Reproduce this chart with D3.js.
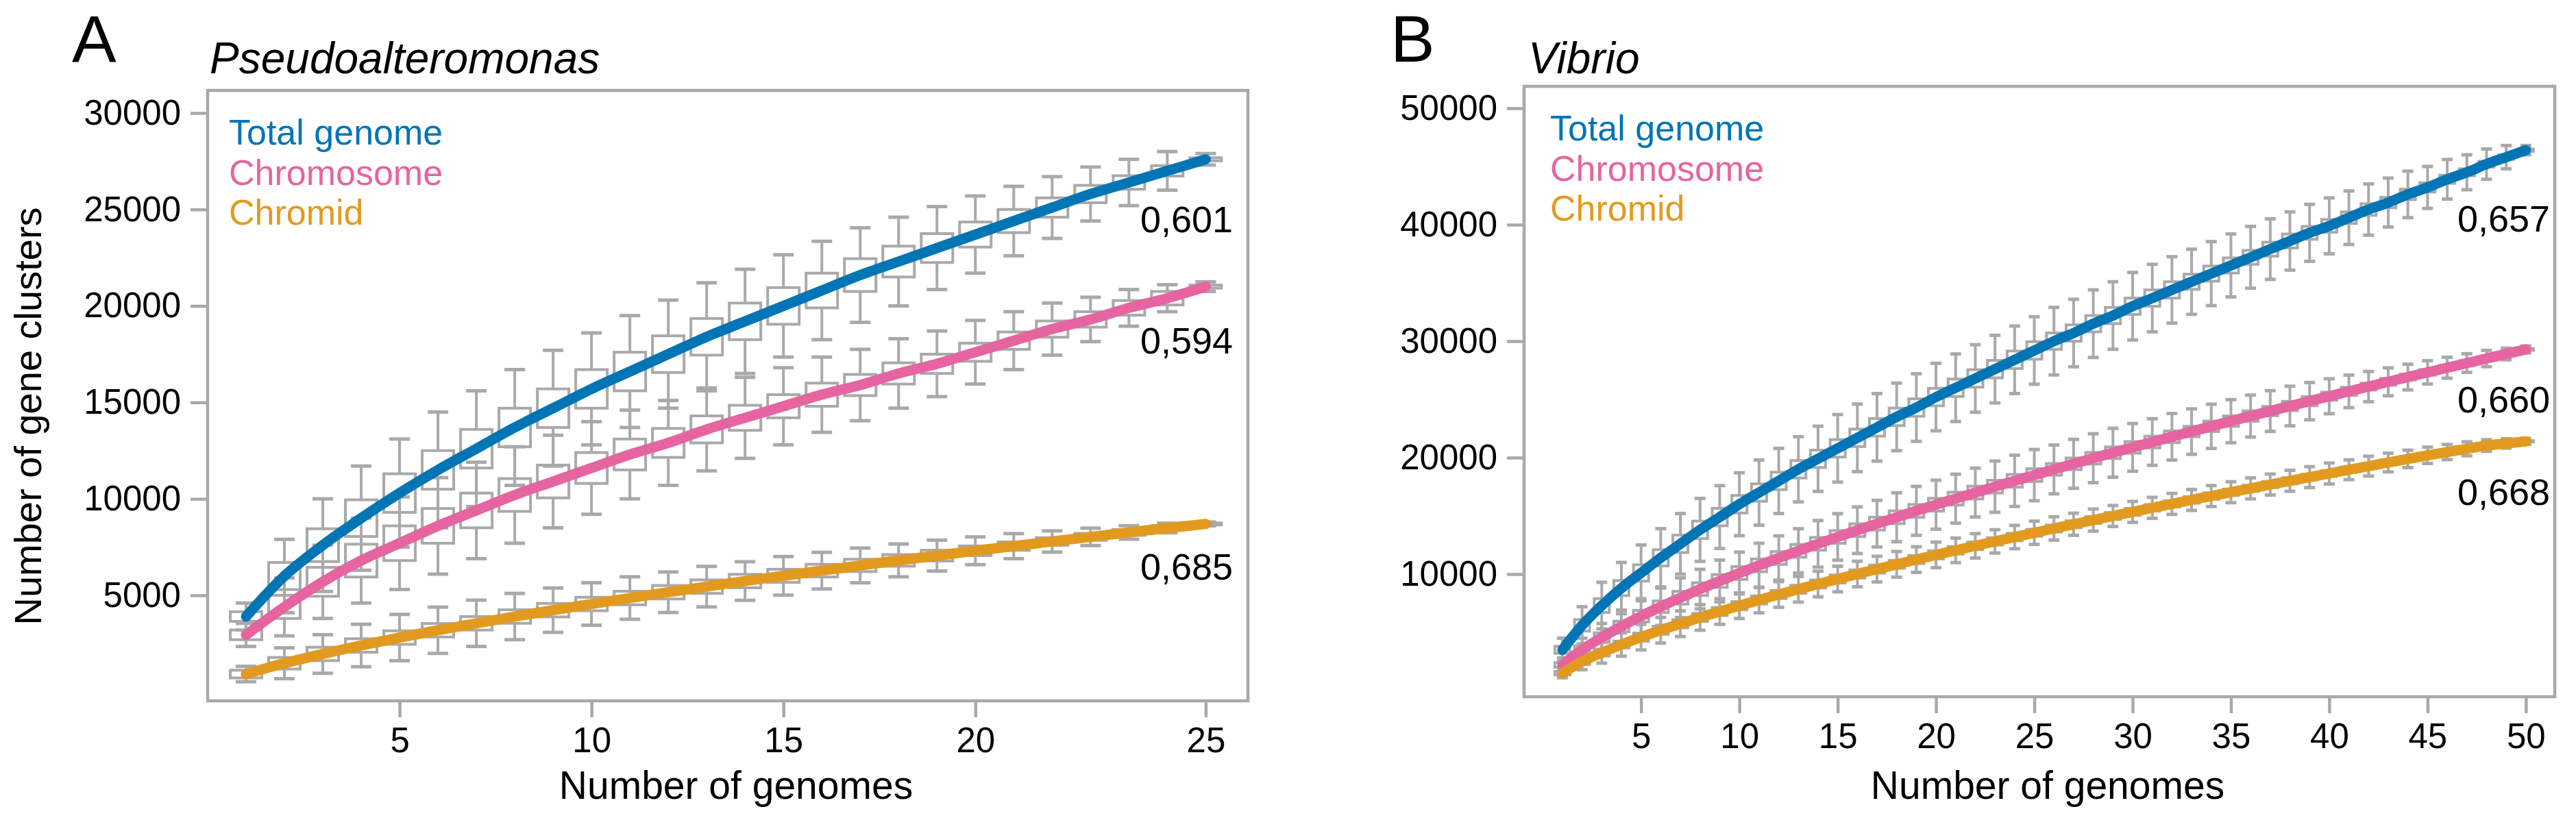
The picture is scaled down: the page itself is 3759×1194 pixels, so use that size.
<!DOCTYPE html>
<html><head><meta charset="utf-8">
<script src="https://cdn.jsdelivr.net/npm/d3@7"></script>
<style>
html,body{margin:0;padding:0;background:#fff;}
svg{display:block;}
text{font-family:"Liberation Sans",Arial,Helvetica,sans-serif;fill:#000;}
</style>
</head><body>
<svg id="chart" width="3759" height="1194"></svg>
<script>
// ---------------- DATA ----------------
const seriesNames = ["Total genome", "Chromosome", "Chromid"];
const seriesColors = ["#0075B6", "#E6649F", "#E29A1E"];

// Panel A: Pseudoalteromonas
const genomesA = [1,2,3,4,5,6,7,8,9,10,11,12,13,14,15,16,17,18,19,20,21,22,23,24,25,26];
const totalA = [3900,6000,7600,9000,10300,11500,12600,13700,14700,15700,16600,17500,18400,19200,20000,20800,21600,22300,23000,23700,24400,25100,25800,26400,27000,27600];
const totalA_box = [250,700,850,950,1000,1000,1000,1000,1000,1000,1000,950,950,950,950,900,850,800,750,650,600,500,450,350,270,80];
const totalA_whisk = [700,1900,2400,2700,2800,3000,3000,3000,3000,2900,2900,2800,2800,2700,2650,2550,2450,2300,2150,2000,1800,1600,1400,1200,1000,300];
const chromA = [2950,4400,5700,6800,7700,8600,9400,10200,10900,11600,12300,12900,13600,14200,14800,15400,15900,16500,17000,17600,18200,18800,19300,19900,20400,21000];
const chromA_box = [250,600,750,850,900,900,900,850,850,800,800,750,700,650,600,600,550,550,500,470,450,420,400,380,350,80];
const chromA_whisk = [600,1500,1900,2200,2400,2500,2500,2500,2400,2400,2300,2200,2150,2100,2000,1950,1850,1800,1700,1650,1500,1350,1150,950,700,250];
const chromidA = [920,1480,1960,2400,2810,3190,3550,3900,4230,4550,4860,5160,5450,5740,6010,6280,6550,6810,7060,7310,7550,7790,8030,8260,8490,8700];
const chromidA_box = [200,300,350,350,350,350,350,350,350,350,350,350,350,350,340,330,320,300,280,250,220,200,180,150,120,50];
const chromidA_whisk = [400,800,1000,1100,1200,1200,1200,1200,1150,1100,1100,1050,1050,1000,1000,950,900,850,800,720,650,550,450,350,250,100];
const exponentsA = ["0,601", "0,594", "0,685"];
const xTickValsA = [5,10,15,20,26];
const xTickLabelsA = ["5","10","15","20","25"];
const yTickValsA = [5000,10000,15000,20000,25000,30000];

// Panel B: Vibrio
const genomesB = [1,2,3,4,5,6,7,8,9,10,11,12,13,14,15,16,17,18,19,20,21,22,23,24,25,26,27,28,29,30,31,32,33,34,35,36,37,38,39,40,41,42,43,44,45,46,47,48,49,50];
const totalB = [3500,5600,7300,8800,10100,11400,12600,13800,14900,16000,17000,18000,19000,19900,20800,21700,22600,23500,24300,25200,26000,26800,27600,28400,29200,30000,30700,31500,32200,33000,33700,34400,35100,35800,36500,37200,37900,38600,39300,39900,40600,41300,41900,42600,43200,43900,44500,45200,45800,46400];
const totalB_box = [300,500,600,650,700,700,750,750,750,750,750,750,750,750,750,750,750,750,750,750,750,750,750,750,750,700,700,700,700,700,700,700,650,650,650,600,600,600,550,550,500,500,450,450,400,350,300,250,200,100];
const totalB_whisk = [1000,1600,2000,2200,2400,2500,2600,2700,2700,2700,2800,2800,2800,2800,2900,2900,2900,2900,2900,2900,2900,2900,2900,2900,2900,2900,2900,2900,2900,2900,2900,2850,2800,2750,2700,2650,2600,2500,2450,2400,2300,2200,2100,2000,1800,1700,1500,1300,1000,400];
const chromB = [2200,3500,4560,5510,6390,7200,7970,8710,9410,10090,10750,11380,12000,12600,13190,13770,14330,14880,15430,15960,16480,17000,17510,18010,18500,18990,19470,19950,20420,20880,21340,21790,22240,22690,23130,23570,24000,24430,24850,25270,25690,26100,26510,26920,27320,27720,28120,28510,28900,29290];
const chromB_box = [200,350,400,450,500,500,550,550,550,550,550,550,550,550,550,550,550,550,550,550,550,550,550,550,550,500,500,500,500,500,500,500,450,450,450,450,400,400,400,350,350,300,300,250,250,200,200,150,120,80];
const chromB_whisk = [600,1000,1200,1400,1500,1600,1700,1700,1800,1800,1900,1900,1900,2000,2000,2000,2000,2100,2100,2100,2100,2100,2200,2200,2200,2100,2100,2100,2100,2050,2000,2000,1950,1900,1850,1800,1750,1700,1600,1500,1400,1300,1200,1100,1000,900,800,700,500,300];
const chromidB = [1500,2490,3260,3950,4590,5180,5740,6280,6790,7290,7780,8250,8700,9150,9580,10010,10430,10840,11250,11650,12040,12430,12810,13180,13550,13920,14280,14640,14990,15340,15690,16030,16370,16700,17030,17360,17690,18010,18330,18640,18960,19270,19580,19890,20200,20480,20760,21040,21220,21400];
const chromidB_box = [150,250,300,300,350,350,350,350,350,350,350,350,350,350,350,350,350,350,350,350,330,330,320,320,300,300,300,300,300,300,280,280,280,280,270,270,260,260,250,250,240,230,220,200,180,160,140,120,100,60];
const chromidB_whisk = [400,700,900,1000,1100,1100,1100,1100,1100,1100,1100,1100,1100,1100,1100,1100,1100,1100,1100,1100,1050,1050,1000,1000,1000,1000,950,950,900,900,900,900,900,900,900,900,900,900,900,900,850,850,800,750,700,650,600,500,400,250];
const exponentsB = ["0,657", "0,660", "0,668"];
const xTickValsB = [5,10,15,20,25,30,35,40,45,50];
const xTickLabelsB = ["5","10","15","20","25","30","35","40","45","50"];
const yTickValsB = [10000,20000,30000,40000,50000];

// ---------------- LAYOUT ----------------
const GREY = "#A9A9A9";
const panels = [
  {
    letter: "A", title: "Pseudoalteromonas", yTitle: "Number of gene clusters",
    left: 303, right: 1821, top: 132, bottom: 1023,
    xDomain: [0, 27.1], yDomain: [-470, 31170],
    genomes: genomesA, xTickVals: xTickValsA, xTickLabels: xTickLabelsA, yTickVals: yTickValsA,
    series: [
      {values: totalA, box: totalA_box, whisk: totalA_whisk},
      {values: chromA, box: chromA_box, whisk: chromA_whisk},
      {values: chromidA, box: chromidA_box, whisk: chromidA_whisk}
    ],
    exps: exponentsA, expOffsets: [106, 98, 81], expX: 1664,
    boxW: 46, capW: 30, legendX: 334, legendY: 211, titleX: 306, letterX: 105
  },
  {
    letter: "B", title: "Vibrio", yTitle: null,
    left: 2224, right: 3728, top: 126, bottom: 1017,
    xDomain: [-0.95, 51.47], yDomain: [-529, 51880],
    genomes: genomesB, xTickVals: xTickValsB, xTickLabels: xTickLabelsB, yTickVals: yTickValsB,
    series: [
      {values: totalB, box: totalB_box, whisk: totalB_whisk},
      {values: chromB, box: chromB_box, whisk: chromB_whisk},
      {values: chromidB, box: chromidB_box, whisk: chromidB_whisk}
    ],
    exps: exponentsB, expOffsets: [119, 92, 93], expX: 3586,
    boxW: 22, capW: 16, legendX: 2262, legendY: 205, titleX: 2230, letterX: 2029
  }
];

const svg = d3.select("#chart");

panels.forEach(p => {
  const g = svg.append("g");
  const x = d3.scaleLinear().domain(p.xDomain).range([p.left, p.right]);
  const y = d3.scaleLinear().domain(p.yDomain).range([p.bottom, p.top]);

  // box plots (grey)
  const bp = g.append("g").attr("stroke", GREY).attr("stroke-width", 4).attr("fill", "none");
  p.series.forEach(s => {
    s.values.forEach((v, i) => {
      const xi = x(p.genomes[i]);
      const lo = v - s.whisk[i], hi = v + s.whisk[i];
      const q1 = v - s.box[i], q3 = v + s.box[i];
      bp.append("line").attr("x1", xi).attr("x2", xi).attr("y1", y(lo)).attr("y2", y(q1));
      bp.append("line").attr("x1", xi).attr("x2", xi).attr("y1", y(q3)).attr("y2", y(hi));
      bp.append("line").attr("x1", xi - p.capW/2).attr("x2", xi + p.capW/2).attr("y1", y(lo)).attr("y2", y(lo)).attr("stroke-width", 5);
      bp.append("line").attr("x1", xi - p.capW/2).attr("x2", xi + p.capW/2).attr("y1", y(hi)).attr("y2", y(hi)).attr("stroke-width", 5);
      bp.append("rect").attr("x", xi - p.boxW/2).attr("width", p.boxW)
        .attr("y", y(q3)).attr("height", Math.max(1, y(q1) - y(q3)));
    });
  });

  // frame
  g.append("rect").attr("x", p.left).attr("y", p.top)
    .attr("width", p.right - p.left).attr("height", p.bottom - p.top)
    .attr("fill", "none").attr("stroke", GREY).attr("stroke-width", 4.5);

  // curves
  const line = d3.line().x((d, i) => x(p.genomes[i])).y(d => y(d)).curve(d3.curveMonotoneX);
  p.series.forEach((s, k) => {
    g.append("path").attr("d", line(s.values)).attr("fill", "none")
      .attr("stroke", seriesColors[k]).attr("stroke-width", 15).attr("stroke-linecap", "round");
  });

  // axes
  const xAxis = d3.axisBottom(x).tickValues(p.xTickVals)
    .tickFormat((d, i) => p.xTickLabels[i]).tickSize(24).tickPadding(15);
  const xa = g.append("g").attr("transform", `translate(0,${p.bottom})`).call(xAxis);
  const yAxis = d3.axisLeft(y).tickValues(p.yTickVals).tickFormat(d3.format("d")).tickSize(25).tickPadding(14);
  const ya = g.append("g").attr("transform", `translate(${p.left},0)`).call(yAxis);
  [xa, ya].forEach(a => {
    a.select(".domain").remove();
    a.selectAll(".tick line").attr("stroke", GREY).attr("stroke-width", 4.5);
    a.selectAll(".tick text").attr("font-size", 51).attr("fill", "#000")
      .attr("font-family", '"Liberation Sans", Arial, sans-serif');
  });

  // axis titles
  g.append("text").attr("x", (p.left + p.right) / 2 + 12).attr("y", 1166)
    .attr("text-anchor", "middle").attr("font-size", 57).text("Number of genomes");
  if (p.yTitle) {
    g.append("text").attr("transform", `translate(60,${(p.top + p.bottom) / 2 + 30}) rotate(-90)`)
      .attr("text-anchor", "middle").attr("font-size", 56).text(p.yTitle);
  }

  // panel letter and title
  g.append("text").attr("x", p.letterX).attr("y", 90).attr("font-size", 97).text(p.letter);
  g.append("text").attr("x", p.titleX).attr("y", 107).attr("font-size", 64)
    .attr("font-style", "italic").text(p.title);

  // legend
  seriesNames.forEach((n, k) => {
    g.append("text").attr("x", p.legendX).attr("y", p.legendY + k * 58.5)
      .attr("font-size", 52).style("fill", seriesColors[k]).text(n);
  });

  // exponent annotations
  p.series.forEach((s, k) => {
    const last = s.values[s.values.length - 1];
    g.append("text").attr("x", p.expX).attr("y", y(last) + p.expOffsets[k])
      .attr("font-size", 54).text(p.exps[k]);
  });
});
</script>
</body></html>
